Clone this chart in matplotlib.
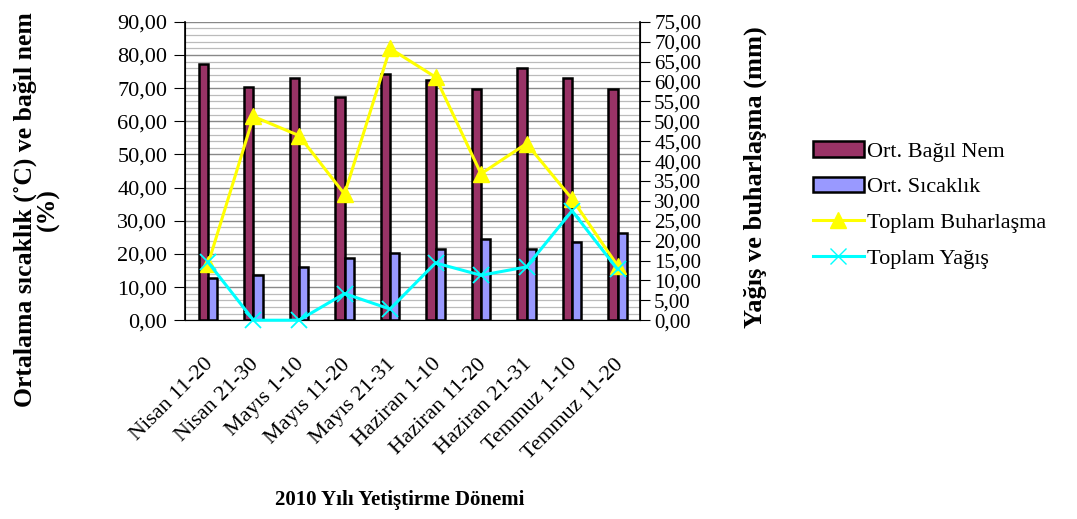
import numpy as np
import matplotlib.pyplot as plt
import matplotlib.transforms as mtransforms
from matplotlib.ticker import MultipleLocator, FuncFormatter
from matplotlib.lines import Line2D
from matplotlib.patches import Patch

plt.rcParams['font.family'] = ['Liberation Serif', 'DejaVu Serif']

# Dönemler
periods = ["Nisan 11-20", "Nisan 21-30", "Mayıs 1-10", "Mayıs 11-20", "Mayıs 21-31",
           "Haziran 1-10", "Haziran 11-20", "Haziran 21-31", "Temmuz 1-10", "Temmuz 11-20"]

# sol eksen (%, °C)
bagil_nem = [77.4, 70.3, 73.2, 67.3, 74.4, 72.4, 69.6, 76.2, 73.2, 69.6]
sicaklik = [12.6, 13.7, 16.1, 18.7, 20.4, 21.4, 24.5, 21.5, 23.5, 26.2]

# sağ eksen (mm)
buharlasma = [14.1, 51.2, 46.4, 31.7, 68.3, 61.1, 36.8, 44.4, 30.5, 13.7]
yagis = [14.6, 0.0, 0.0, 6.7, 2.8, 14.4, 11.3, 13.4, 27.5, 12.8]

c_nem = "#993366"
c_sic = "#9999FF"
c_buh = "#FFFF00"
c_yag = "#00FFFF"

fig = plt.figure(figsize=(10.77, 5.19), dpi=100)
ax = fig.add_axes([0.172, 0.383, 0.4225, 0.575])
x = np.arange(len(periods))
w = 0.2

ax.bar(x - w / 2, bagil_nem, w, color=c_nem, edgecolor="black", linewidth=1.8, zorder=3)
ax.bar(x + w / 2, sicaklik, w, color=c_sic, edgecolor="black", linewidth=1.8, zorder=3)

ax.set_xlim(-0.5, len(periods) - 0.5)
ax.set_ylim(0, 90)
ax.yaxis.set_major_locator(MultipleLocator(10))
ax.yaxis.set_minor_locator(MultipleLocator(2))
fmt = FuncFormatter(lambda v, p: f"{v:.2f}".replace(".", ","))
ax.yaxis.set_major_formatter(fmt)
ax.grid(axis="y", which="major", color="#888888", linewidth=1.0, zorder=0)
ax.grid(axis="y", which="minor", color="#bbbbbb", linewidth=0.9, zorder=0)
ax.tick_params(axis="y", which="major", labelsize=16, length=8, direction="out", pad=5)
ax.tick_params(axis="y", which="minor", length=0)
ax.set_xticks(x)
ax.set_xticklabels(periods, rotation=45, ha="right", rotation_mode="anchor", fontsize=16)
ax.tick_params(axis="x", length=0, pad=25)
shift = mtransforms.ScaledTranslation(-4 / 100, 0, fig.dpi_scale_trans)
for lab in ax.get_xticklabels():
    lab.set_transform(lab.get_transform() + shift)
ax.spines["top"].set_visible(False)
ax.spines["bottom"].set_color("#555555")
ax.spines["left"].set_linewidth(1.2)

ax2 = ax.twinx()
ax2.plot(x, buharlasma, color=c_buh, linewidth=2.2, marker="^", markersize=12,
         markerfacecolor=c_buh, markeredgecolor=c_buh, zorder=4, clip_on=False)
ax2.plot(x, yagis, color=c_yag, linewidth=2.2, marker="x", markersize=12,
         markeredgewidth=1.3, zorder=5, clip_on=False)
ax2.set_ylim(0, 75)
ax2.yaxis.set_major_locator(MultipleLocator(5))
ax2.yaxis.set_major_formatter(fmt)
ax2.tick_params(axis="y", labelsize=15, length=7, direction="out", pad=3)
ax2.spines["top"].set_visible(False)
ax2.spines["right"].set_linewidth(1.2)

fig.text(37 / 1077, 309 / 519, "Ortalama sıcaklık (˚C) ve bağıl nem\n(%)", rotation=90,
         ha="center", va="center", ma="center", fontsize=18.5, fontweight="bold", linespacing=0.95)
fig.text(755 / 1077, 342 / 519, "Yağış ve buharlaşma (mm)", rotation=90,
         ha="center", va="center", fontsize=19, fontweight="bold")
fig.text(400 / 1077, 19 / 519, "2010 Yılı Yetiştirme Dönemi", ha="center", va="center",
         fontsize=15, fontweight="bold")

handles = [
    Patch(facecolor=c_nem, edgecolor="black", linewidth=1.8),
    Patch(facecolor=c_sic, edgecolor="black", linewidth=1.8),
    Line2D([], [], color=c_buh, linewidth=2.2, marker="^", markersize=12),
    Line2D([], [], color=c_yag, linewidth=2.2, marker="x", markersize=12),
]
labels = ["Ort. Bağıl Nem", "Ort. Sıcaklık", "Toplam Buharlaşma", "Toplam Yağış"]
fig.legend(handles, labels, loc="center left", bbox_to_anchor=(0.736, 0.605), frameon=False,
           fontsize=16, handlelength=2.3, handletextpad=0.15, labelspacing=0.68)

fig.savefig("out.png", dpi=100)
